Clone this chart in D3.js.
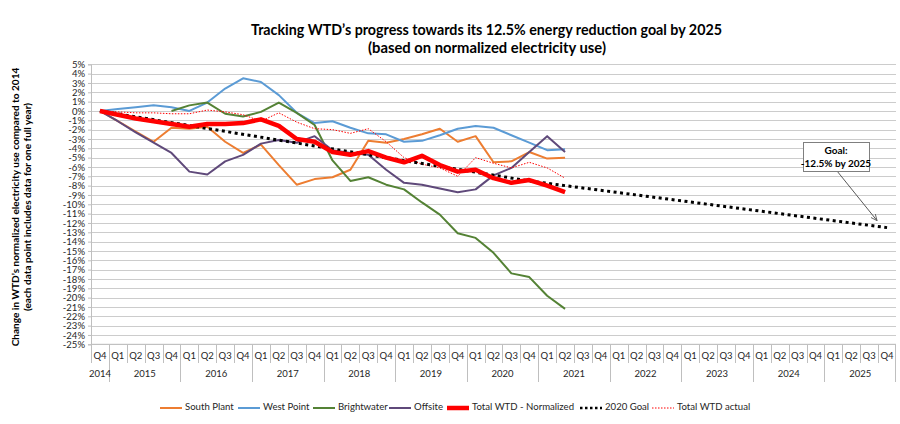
<!DOCTYPE html>
<html><head><meta charset="utf-8">
<script src="https://cdn.jsdelivr.net/npm/d3@7"></script>
<style>
body{margin:0;background:#fff}
svg{display:block;font-family:Lato,"Open Sans",sans-serif}
</style>
</head><body>
<svg id="chart" width="900" height="424"></svg>
<script>
// ---------- DATA ----------
const categories = [
  "Q4 2014",
  "Q1 2015","Q2 2015","Q3 2015","Q4 2015",
  "Q1 2016","Q2 2016","Q3 2016","Q4 2016",
  "Q1 2017","Q2 2017","Q3 2017","Q4 2017",
  "Q1 2018","Q2 2018","Q3 2018","Q4 2018",
  "Q1 2019","Q2 2019","Q3 2019","Q4 2019",
  "Q1 2020","Q2 2020","Q3 2020","Q4 2020",
  "Q1 2021","Q2 2021","Q3 2021","Q4 2021",
  "Q1 2022","Q2 2022","Q3 2022","Q4 2022",
  "Q1 2023","Q2 2023","Q3 2023","Q4 2023",
  "Q1 2024","Q2 2024","Q3 2024","Q4 2024",
  "Q1 2025","Q2 2025","Q3 2025","Q4 2025"
];
const years = ["2014","2015","2016","2017","2018","2019","2020","2021","2022","2023","2024","2025"];
const yTicks = [5,4,3,2,1,0,-1,-2,-3,-4,-5,-6,-7,-8,-9,-10,-11,-12,-13,-14,-15,-16,-17,-18,-19,-20,-21,-22,-23,-24,-25];

// values (%) from Q4 2014 through Q2 2021
const southPlant = [0,-1.1,-2.2,-3.3,-1.8,-1.9,-1.7,-3.3,-4.5,-3.6,-5.8,-7.9,-7.3,-7.1,-6.3,-3.2,-3.4,-3.0,-2.5,-1.9,-3.3,-2.7,-5.5,-5.4,-4.4,-5.1,-5.0];
const westPoint = [0,0.2,0.4,0.6,0.4,0.0,0.9,2.4,3.5,3.1,1.7,-0.2,-1.3,-1.1,-1.8,-2.4,-2.5,-3.3,-3.2,-2.6,-1.9,-1.6,-1.8,-2.6,-3.4,-4.2,-4.1];
const brightwater = [null,null,null,null,0,0.6,0.9,-0.3,-0.6,-0.1,0.9,-0.2,-1.5,-5.3,-7.5,-7.1,-7.9,-8.4,-9.8,-11.1,-13.1,-13.6,-15.2,-17.4,-17.8,-19.8,-21.2];
const offsite = [0,-1.1,-2.3,-3.4,-4.5,-6.5,-6.8,-5.4,-4.7,-3.5,-3.1,-3.4,-2.7,-4.2,-4.5,-4.7,-6.3,-7.7,-7.9,-8.3,-8.7,-8.4,-6.9,-6.1,-4.4,-2.7,-4.4];
const totalNormalized = [0,-0.4,-0.8,-1.1,-1.4,-1.7,-1.4,-1.4,-1.3,-0.9,-1.6,-3.0,-3.3,-4.4,-4.7,-4.3,-5.0,-5.5,-4.8,-5.8,-6.5,-6.3,-7.2,-7.7,-7.4,-8.0,-8.7];
const totalActual = [0,-0.1,-0.2,-0.2,-0.3,-0.3,0.1,-0.1,-0.4,-1.1,-0.2,-1.2,-1.9,-2.0,-2.4,-1.9,-3.3,-5.0,-5.7,-6.1,-7.0,-5.0,-5.6,-6.1,-5.5,-6.1,-7.2];
const goalCategories = ["Q4 2014","Q4 2020","Q4 2025"];
const goalValues = [0,-7.5,-12.5];

const seriesNames = ["South Plant","West Point","Brightwater","Offsite","Total WTD - Normalized","2020 Goal","Total WTD actual"];

// ---------- STYLES ----------
const styles = {
  "South Plant": {color:"#ED7D31", width:2, dash:null},
  "West Point": {color:"#5B9BD5", width:2, dash:null},
  "Brightwater": {color:"#548235", width:2, dash:null},
  "Offsite": {color:"#5F497A", width:2, dash:null},
  "Total WTD - Normalized": {color:"#FF0000", width:4.5, dash:null},
  "2020 Goal": {color:"#000000", width:3, dash:"3,3.5"},
  "Total WTD actual": {color:"#FF0000", width:1, dash:"1.5,1.5"}
};

const series = [
  {name:"South Plant", cats:categories, values:southPlant},
  {name:"West Point", cats:categories, values:westPoint},
  {name:"Brightwater", cats:categories, values:brightwater},
  {name:"Offsite", cats:categories, values:offsite},
  {name:"Total WTD actual", cats:categories, values:totalActual},
  {name:"2020 Goal", cats:goalCategories, values:goalValues},
  {name:"Total WTD - Normalized", cats:categories, values:totalNormalized}
];

// ---------- CHART ----------
const svg = d3.select("#chart");
const plotL = 91, plotR = 896, plotT = 64.3, plotB = 344.3;
const x = d3.scaleBand().domain(categories).range([plotL,plotR]).padding(0);
const bw = x.bandwidth();
const xc = c => x(c) + bw/2;
const y = d3.scaleLinear().domain([-25,5]).range([plotB,plotT]);
const txt = "#262626";

// gridlines
svg.append("g").selectAll("line").data(yTicks).join("line")
  .attr("x1",plotL).attr("x2",plotR)
  .attr("y1",d=>Math.round(y(d))+0.5).attr("y2",d=>Math.round(y(d))+0.5)
  .attr("stroke","#cccccc").attr("stroke-width",1);

// y axis
const yAxis = d3.axisLeft(y).tickValues(yTicks).tickFormat(d=>d+"%").tickSize(3).tickPadding(3);
const gy = svg.append("g").attr("transform",`translate(${plotL},0)`).call(yAxis);
gy.select(".domain").attr("stroke","#bfbfbf");
gy.selectAll(".tick line").attr("stroke","#bfbfbf");
gy.selectAll(".tick text").attr("font-family","Lato").attr("font-size",9.5).attr("fill",txt);

// x axis (multi-level category)
const gx = svg.append("g");
gx.append("line").attr("x1",plotL).attr("x2",plotR).attr("y1",plotB).attr("y2",plotB).attr("stroke","#bfbfbf");
gx.selectAll("line.sep").data(categories).join("line").attr("class","sep")
  .attr("x1",d=>Math.round(x(d))+0.5).attr("x2",d=>Math.round(x(d))+0.5)
  .attr("y1",plotB).attr("y2",(d,i)=> (i>0 && d.startsWith("Q1")) ? 382 : 363)
  .attr("stroke","#bfbfbf");
gx.append("line").attr("x1",plotR-0.5).attr("x2",plotR-0.5).attr("y1",plotB).attr("y2",382).attr("stroke","#bfbfbf");
gx.selectAll("text.q").data(categories).join("text").attr("class","q")
  .attr("x",d=>xc(d)).attr("y",357).attr("text-anchor","middle").attr("dominant-baseline","middle")
  .attr("font-size",9.5).attr("fill",txt).text(d=>d.split(" ")[0]);
gx.selectAll("text.yr").data(years).join("text").attr("class","yr")
  .attr("x",yr=>{const cs=categories.filter(c=>c.endsWith(yr)); return (x(cs[0])+x(cs[cs.length-1])+bw)/2;})
  .attr("y",375).attr("text-anchor","middle").attr("dominant-baseline","middle")
  .attr("font-size",9.5).attr("fill",txt).text(d=>d);

// lines
const line = d3.line().defined(d=>d.v!==null).x(d=>xc(d.c)).y(d=>y(d.v));
svg.append("g").selectAll("path").data(series).join("path")
  .attr("d",s=>line(s.values.map((v,i)=>({c:s.cats[i],v}))))
  .attr("fill","none")
  .attr("stroke",s=>styles[s.name].color)
  .attr("stroke-width",s=>styles[s.name].width)
  .attr("stroke-dasharray",s=>styles[s.name].dash)
  .attr("stroke-linejoin","round");

// annotation
svg.append("defs").append("marker").attr("id","arr").attr("viewBox","0 0 10 10")
  .attr("refX",9).attr("refY",5).attr("markerWidth",7).attr("markerHeight",7).attr("orient","auto")
  .attr("markerUnits","userSpaceOnUse")
  .append("path").attr("d","M0,1 L9,5 L0,9").attr("fill","none").attr("stroke","#595959").attr("stroke-width",1.2);
const ann = svg.append("g");
ann.append("line").attr("x1",837).attr("y1",171).attr("x2",xc("Q4 2025")-10).attr("y2",y(-12.5)-7)
  .attr("stroke","#595959").attr("stroke-width",1).attr("marker-end","url(#arr)");
ann.append("rect").attr("x",803.5).attr("y",142.5).attr("width",66).attr("height",29)
  .attr("fill","#fff").attr("stroke","#7f7f7f").attr("stroke-width",1);
ann.append("text").attr("x",836).attr("y",151.5).attr("text-anchor","middle").attr("dominant-baseline","middle")
  .attr("font-size",10).attr("font-weight","bold").attr("fill","#000").text("Goal:");
ann.append("text").attr("x",836).attr("y",164).attr("text-anchor","middle").attr("dominant-baseline","middle")
  .attr("font-size",10).attr("font-weight","bold").attr("fill","#000").text("-12.5% by 2025");

// titles
function fit(sel, target){
  const w = sel.node().getComputedTextLength();
  const fs = parseFloat(sel.attr("font-size"));
  if (w > 0) sel.attr("font-size", (fs*target/w).toFixed(2));
}
const t1 = svg.append("text").attr("x",486.5).attr("y",31).attr("text-anchor","middle").attr("dominant-baseline","middle")
  .attr("font-size",14).attr("font-weight","bold").attr("fill","#000")
  .text("Tracking WTD’s progress towards its 12.5% energy reduction goal by 2025");
fit(t1,471);
const t2 = svg.append("text").attr("x",487).attr("y",49).attr("text-anchor","middle").attr("dominant-baseline","middle")
  .attr("font-size",14).attr("font-weight","bold").attr("fill","#000")
  .text("(based on normalized electricity use)");
fit(t2,238);

const ya1 = svg.append("text").attr("transform","translate(16,207) rotate(-90)").attr("text-anchor","middle")
  .attr("dominant-baseline","middle").attr("font-size",10).attr("font-weight","bold").attr("fill","#000")
  .text("Change in WTD’s normalized electricity use compared to 2014");
fit(ya1,279);
const ya2 = svg.append("text").attr("transform","translate(28,207) rotate(-90)").attr("text-anchor","middle")
  .attr("dominant-baseline","middle").attr("font-size",10).attr("font-weight","bold").attr("fill","#000")
  .text("(each data point includes data for one full year)");
ya2.attr("font-size", ya1.attr("font-size"));

// legend
const legendX = [160,238,313,389,447,580,652];
const lg = svg.append("g").selectAll("g").data(seriesNames).join("g")
  .attr("transform",(d,i)=>`translate(${legendX[i]},408)`);
lg.append("line").attr("x1",0).attr("x2",22).attr("y1",0).attr("y2",0)
  .attr("stroke",d=>styles[d].color)
  .attr("stroke-width",d=>d==="2020 Goal"?2.5:styles[d].width)
  .attr("stroke-dasharray",d=>d==="2020 Goal"?"2.5,2.5":styles[d].dash);
lg.append("text").attr("x",25).attr("y",0).attr("dominant-baseline","middle")
  .attr("font-size",9.6).attr("fill",txt).text(d=>d);
</script>
</body></html>
